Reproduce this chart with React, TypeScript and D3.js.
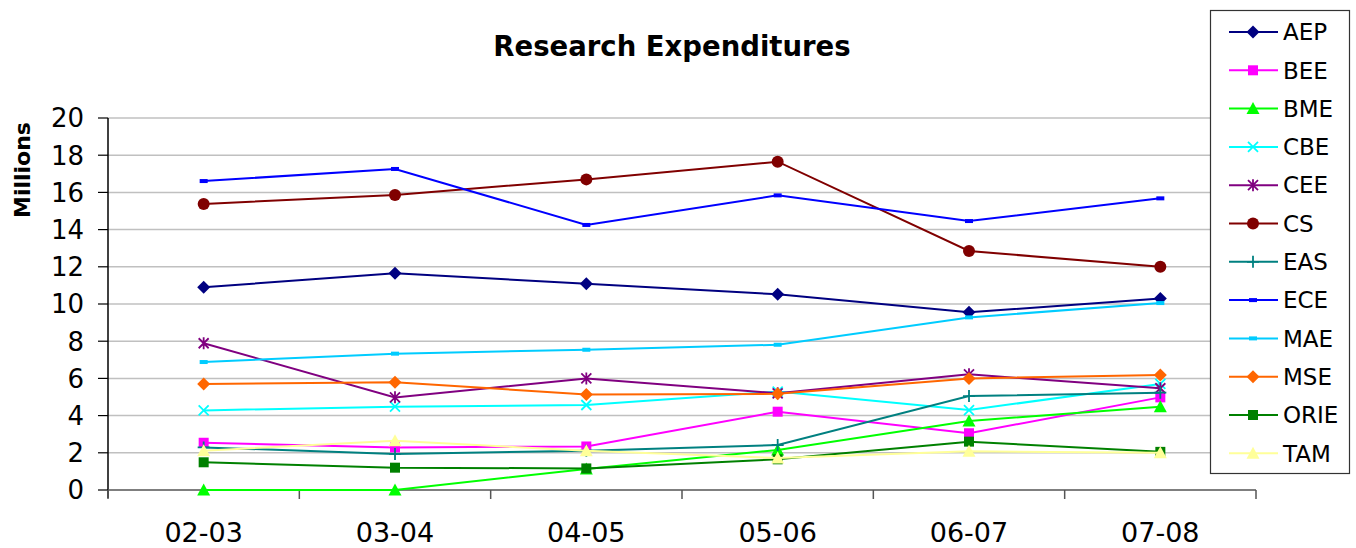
import React from "react";
import * as d3 from "d3";

const categories = ["02-03", "03-04", "04-05", "05-06", "06-07", "07-08"];
const yTicks = [0, 2, 4, 6, 8, 10, 12, 14, 16, 18, 20];

const AEP = [10.9, 11.65, 11.09, 10.52, 9.55, 10.29];
const BEE = [2.54, 2.29, 2.34, 4.21, 3.05, 4.98];
const BME = [0, 0, 1.13, 2.15, 3.71, 4.48];
const CBE = [4.28, 4.48, 4.57, 5.29, 4.3, 5.7];
const CEE = [7.89, 4.98, 6.0, 5.2, 6.22, 5.47];
const CS = [15.38, 15.86, 16.7, 17.65, 12.85, 12.0];
const EAS = [2.29, 1.94, 2.11, 2.42, 5.05, 5.23];
const ECE = [16.61, 17.26, 14.25, 15.84, 14.46, 15.68];
const MAE = [6.88, 7.33, 7.54, 7.81, 9.28, 10.05];
const MSE = [5.7, 5.79, 5.14, 5.17, 6.0, 6.18];
const ORIE = [1.49, 1.2, 1.16, 1.65, 2.6, 2.05];
const TAM = [2.11, 2.65, 2.11, 1.72, 2.08, 2.0];

const seriesNames = ["AEP", "BEE", "BME", "CBE", "CEE", "CS", "EAS", "ECE", "MAE", "MSE", "ORIE", "TAM"];
const seriesValues = [AEP, BEE, BME, CBE, CEE, CS, EAS, ECE, MAE, MSE, ORIE, TAM];
const seriesColors = ["#000080", "#FF00FF", "#00FF00", "#00FFFF", "#800080", "#800000", "#008080", "#0000FF", "#00CCFF", "#FF6600", "#008000", "#FFFF99"];
const seriesMarkers = ["diamond", "square", "triangle", "x", "star", "circle", "plus", "dash", "dash", "diamond", "square", "triangle"];

const left = 108, right = 1256, top = 118, bottom = 490;

function Marker({ type, x, y, color }: { type: string; x: number; y: number; color: string }) {
  switch (type) {
    case "diamond":
      return <path d={`M${x},${y - 6.5}L${x + 6.5},${y}L${x},${y + 6.5}L${x - 6.5},${y}Z`} fill={color} />;
    case "square":
      return <rect x={x - 5} y={y - 5} width={10} height={10} fill={color} />;
    case "triangle":
      return <path d={`M${x},${y - 6.5}L${x + 6.5},${y + 5.5}L${x - 6.5},${y + 5.5}Z`} fill={color} />;
    case "circle":
      return <circle cx={x} cy={y} r={6} fill={color} />;
    case "x":
      return <path d={`M${x - 5},${y - 5}L${x + 5},${y + 5}M${x - 5},${y + 5}L${x + 5},${y - 5}`} stroke={color} strokeWidth={1.8} />;
    case "star":
      return <path d={`M${x - 5},${y - 5}L${x + 5},${y + 5}M${x - 5},${y + 5}L${x + 5},${y - 5}M${x},${y - 6}L${x},${y + 6}`} stroke={color} strokeWidth={1.8} />;
    case "plus":
      return <path d={`M${x - 6},${y}L${x + 6},${y}M${x},${y - 6}L${x},${y + 6}`} stroke={color} strokeWidth={1.8} />;
    case "dash":
      return <rect x={x - 4} y={y - 2} width={8} height={4} fill={color} />;
    default:
      return null;
  }
}

export default function App() {
  const x = d3.scaleBand<string>().domain(categories).range([left, right]);
  const y = d3.scaleLinear().domain([0, 20]).range([bottom, top]);
  const cx = (c: string) => (x(c) as number) + x.bandwidth() / 2;
  const line = d3.line<number>().x((_, i) => cx(categories[i])).y((v) => y(v));
  const font = "'DejaVu Sans', Verdana, sans-serif";

  const boundaries = d3.range(categories.length + 1).map((i) => left + i * x.step());

  return (
    <svg width={1356} height={548} style={{ position: "absolute", left: 0, top: 0 }} fontFamily={font}>
      <rect width={1356} height={548} fill="#fff" />
      <text x={672} y={56} textAnchor="middle" fontSize={27.5} fontWeight="bold">Research Expenditures</text>
      {yTicks.map((t) => (
        <g key={t}>
          {t > 0 && <line x1={left} x2={right} y1={y(t)} y2={y(t)} stroke="#c0c0c0" strokeWidth={1.5} />}
          <line x1={left - 10} x2={left} y1={y(t)} y2={y(t)} stroke="#000" strokeWidth={1.2} />
          <text x={84} y={y(t)} dy="0.36em" textAnchor="end" fontSize={26}>{t}</text>
        </g>
      ))}
      <line x1={left} x2={left} y1={top} y2={bottom + 8} stroke="#000" strokeWidth={1.5} />
      <line x1={left} x2={right} y1={bottom} y2={bottom} stroke="#555" strokeWidth={1.5} />
      {boundaries.map((b, i) => (
        <line key={i} x1={b} x2={b} y1={bottom} y2={bottom + 9} stroke="#555" strokeWidth={1.5} />
      ))}
      {categories.map((c) => (
        <text key={c} x={cx(c)} y={542} textAnchor="middle" fontSize={27}>{c}</text>
      ))}
      <text transform={`translate(30,170) rotate(-90)`} textAnchor="middle" fontSize={22} fontWeight="bold">Millions</text>
      {seriesValues.map((vals, si) => (
        <g key={seriesNames[si]}>
          <path d={line(vals) || ""} fill="none" stroke={seriesColors[si]} strokeWidth={2} />
          {vals.map((v, i) => (
            <Marker key={i} type={seriesMarkers[si]} x={cx(categories[i])} y={y(v)} color={seriesColors[si]} />
          ))}
        </g>
      ))}
      <rect x={1210.5} y={10.5} width={139} height={463} fill="#fff" stroke="#333" strokeWidth={1.2} />
      {seriesNames.map((n, i) => {
        const ly = 32 + i * 38.3;
        return (
          <g key={n}>
            <line x1={1229} x2={1278} y1={ly} y2={ly} stroke={seriesColors[i]} strokeWidth={2} />
            <Marker type={seriesMarkers[i]} x={1253} y={ly} color={seriesColors[i]} />
            <text x={1283} y={ly} dy="0.36em" fontSize={23}>{n}</text>
          </g>
        );
      })}
    </svg>
  );
}
